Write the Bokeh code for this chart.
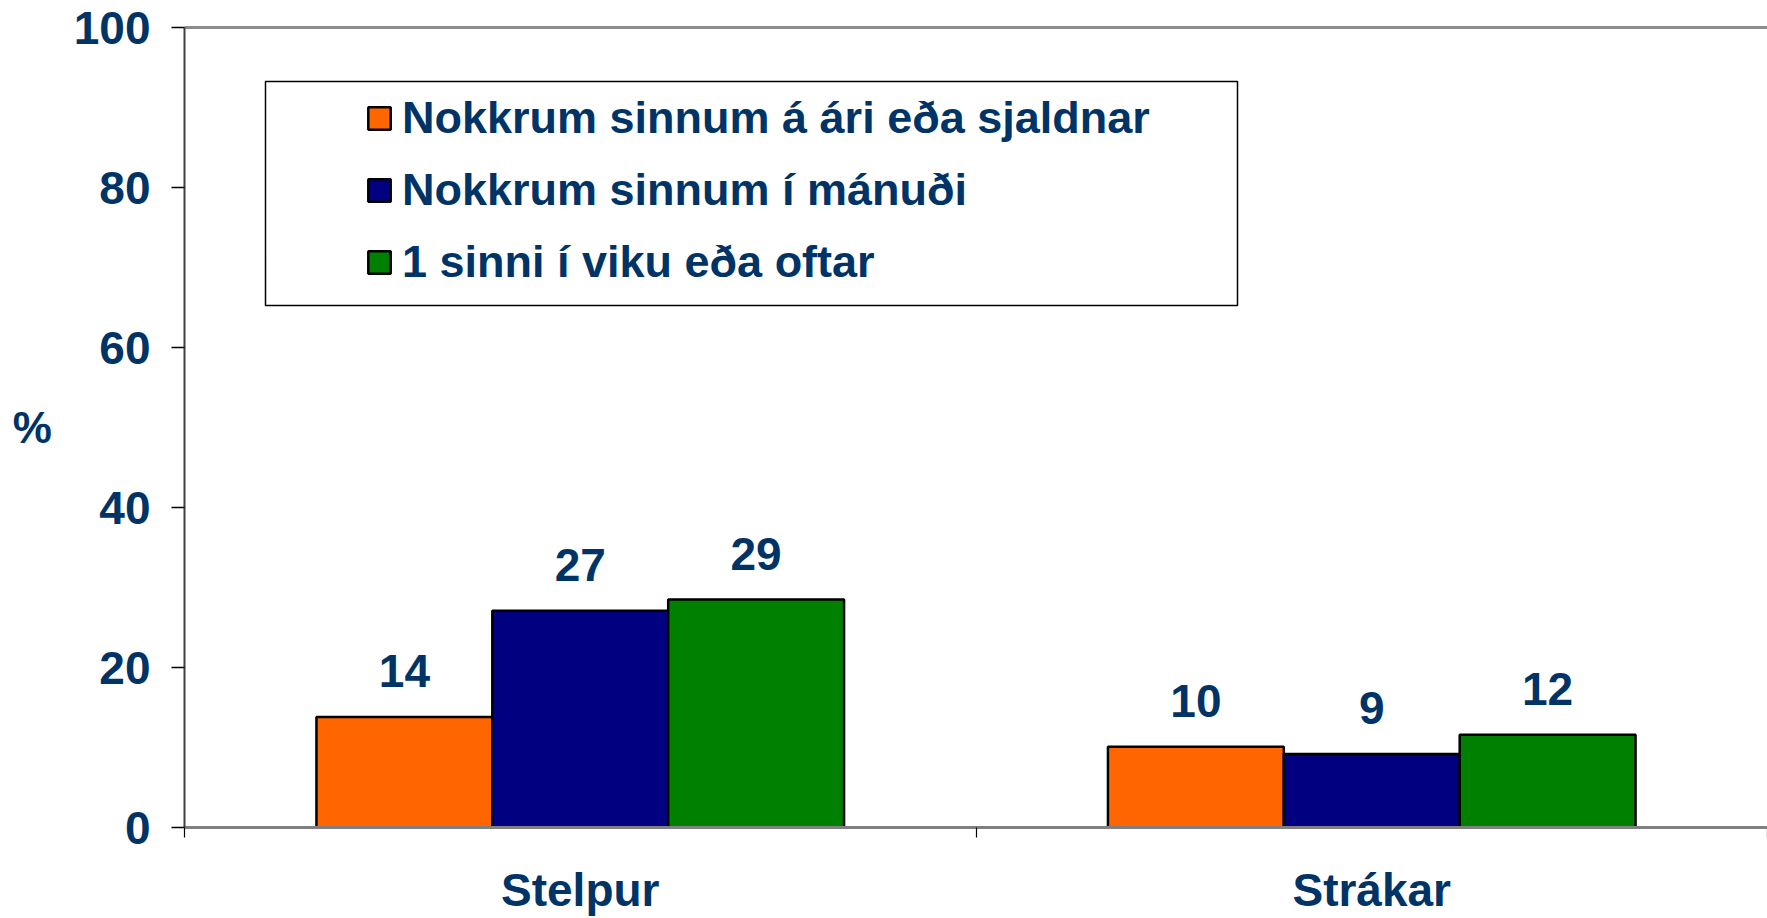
from bokeh.plotting import figure
from bokeh.models import (Range1d, LinearAxis, FixedTicker, Legend, LegendItem,
                          BoxAnnotation, ColumnDataSource)
from bokeh.transform import dodge
from bokeh.core.properties import value
from bokeh.embed import file_html
from bokeh.resources import INLINE

# ---- data ----
categories = ["Stelpur", "Strákar"]
series_names = ["Nokkrum sinnum á ári eða sjaldnar",
                "Nokkrum sinnum í mánuði",
                "1 sinni í viku eða oftar"]
series_colors = ["#FF6600", "#000080", "#008000"]
yearly_or_less = [13.8, 10.1]
monthly = [27.1, 9.2]
weekly_or_more = [28.5, 11.6]
yearly_labels = ["14", "10"]
monthly_labels = ["27", "9"]
weekly_labels = ["29", "12"]
y_ticks = [0, 20, 40, 60, 80, 100]

TXT = "#003366"
FONT = "Liberation Sans"

src = ColumnDataSource(dict(
    x=[i + 0.5 for i in range(len(categories))],
    s0=yearly_or_less, s1=monthly, s2=weekly_or_more,
    l0=yearly_labels, l1=monthly_labels, l2=weekly_labels,
))

p = figure(width=1767, height=918, x_range=Range1d(0, 2), y_range=Range1d(0, 100),
           output_backend="svg", toolbar_location=None,
           x_axis_type=None, y_axis_type=None,
           min_border_left=184, min_border_right=0, min_border_top=27, min_border_bottom=91)
p.outline_line_color = None
p.background_fill_color = "white"
p.border_fill_color = "white"

# legend frame (behind legend)
box = BoxAnnotation(left=(265 - 184) / 791.5, right=(1237 - 184) / 791.5,
                    top=(827 - 81) / 8.0, bottom=(827 - 305) / 8.0,
                    fill_color="white", fill_alpha=1.0,
                    line_color="black", line_width=1.5, line_alpha=1.0)
p.add_layout(box)

bw = 0.2222
offsets = [-bw, 0.0, bw]
renderers = []
for k in range(3):
    r = p.vbar(x=dodge("x", offsets[k], range=p.x_range), top="s%d" % k, width=bw,
               source=src, fill_color=series_colors[k], line_color="black", line_width=2.5)
    renderers.append(r)
    p.text(x=dodge("x", offsets[k], range=p.x_range), y="s%d" % k, text="l%d" % k,
           source=src, text_align="center", text_baseline="alphabetic", y_offset=-46,
           text_font=value(FONT), text_font_style="bold", text_font_size="46px",
           text_color=TXT)

# left axis
yaxis = LinearAxis(ticker=FixedTicker(ticks=y_ticks, minor_ticks=[]),
                   axis_label="%", axis_label_orientation="horizontal",
                   axis_label_standoff=19,
                   axis_label_text_font=FONT, axis_label_text_font_style="bold",
                   axis_label_text_font_size="44px", axis_label_text_color=TXT,
                   major_label_text_font=FONT, major_label_text_font_style="bold",
                   major_label_text_font_size="46px", major_label_text_color=TXT,
                   major_label_standoff=21,
                   major_tick_out=13, major_tick_in=0, major_tick_line_color="black",
                   major_tick_line_width=1.5,
                   minor_tick_out=0, minor_tick_in=0,
                   axis_line_color="#404040", axis_line_width=2)
p.add_layout(yaxis, "left")

# bottom axis: labels at category centres, ticks at category boundaries
xaxis = LinearAxis(ticker=FixedTicker(ticks=[i + 0.5 for i in range(len(categories))],
                                      minor_ticks=list(range(len(categories) + 1))),
                   major_label_overrides={i + 0.5: c for i, c in enumerate(categories)},
                   major_label_text_font=FONT, major_label_text_font_style="bold",
                   major_label_text_font_size="46px", major_label_text_color=TXT,
                   major_label_standoff=26,
                   major_tick_out=0, major_tick_in=0,
                   minor_tick_out=10, minor_tick_in=0, minor_tick_line_color="black",
                   minor_tick_line_width=1.2,
                   axis_line_color="#808080", axis_line_width=3)
p.add_layout(xaxis, "below")

# top border line
top = LinearAxis(ticker=FixedTicker(ticks=[], minor_ticks=[]),
                 major_label_text_font_size="0px", major_tick_out=0, major_tick_in=0,
                 minor_tick_out=0, minor_tick_in=0,
                 axis_line_color="#8c8c8c", axis_line_width=3)
p.add_layout(top, "above")

legend = Legend(items=[LegendItem(label=series_names[k], renderers=[renderers[k]])
                       for k in range(3)],
                location=(181, 539), padding=0, spacing=20, margin=0,
                label_height=48, glyph_width=28, glyph_height=28, label_standoff=9,
                border_line_color=None, background_fill_alpha=0,
                label_text_font=FONT, label_text_font_style="bold",
                label_text_font_size="45px", label_text_color=TXT)
p.add_layout(legend)

open("out.html", "w").write(file_html(p, INLINE))
